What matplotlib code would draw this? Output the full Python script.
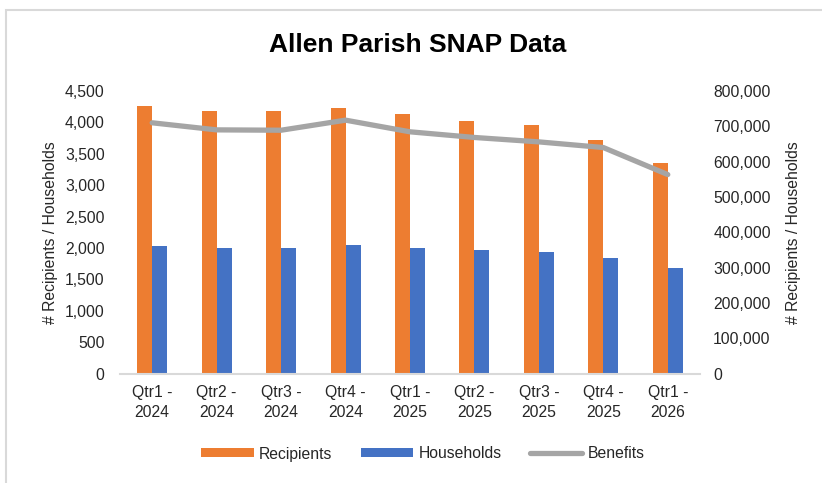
import matplotlib
matplotlib.use("Agg")
import matplotlib.pyplot as plt
import numpy as np
from matplotlib.ticker import FuncFormatter, MultipleLocator
from matplotlib.patches import Rectangle

plt.rcParams['font.family'] = ['Liberation Sans', 'DejaVu Sans']

categories = ["Qtr1 -\n2024", "Qtr2 -\n2024", "Qtr3 -\n2024", "Qtr4 -\n2024",
              "Qtr1 -\n2025", "Qtr2 -\n2025", "Qtr3 -\n2025", "Qtr4 -\n2025",
              "Qtr1 -\n2026"]
recipients = [4263, 4186, 4175, 4224, 4133, 4026, 3962, 3713, 3346]
households = [2031, 2005, 2005, 2043, 2003, 1968, 1931, 1835, 1676]
benefits = [710000, 690000, 689000, 717500, 684500, 668500, 656000, 640000, 563500]

orange = "#ED7D31"
blue = "#4472C4"
gray = "#A5A5A5"
txt = "#262626"
fs = 11.3

fig = plt.figure(figsize=(8.22, 4.83), dpi=100)
# outer border
fig.patches.append(Rectangle((6/822, -0.01), 1.2, 1 - 10/483 + 0.01, transform=fig.transFigure,
                             fill=False, edgecolor="#D9D9D9", linewidth=1.5, zorder=0))

ax = fig.add_axes([120/822, (483-373.7)/483, 580/822, 282.7/483])
x = np.arange(len(categories))
w = 0.233
ax.bar(x - w/2, recipients, width=w, color=orange, label="Recipients", zorder=2)
ax.bar(x + w/2, households, width=w, color=blue, label="Households", zorder=2)
ax.set_xlim(-0.5, len(categories) - 0.5)
ax.set_ylim(0, 4500)
ax.yaxis.set_major_locator(MultipleLocator(500))
ax.yaxis.set_major_formatter(FuncFormatter(lambda v, p: f"{int(v):,}"))
ax.set_xticks(x)
ax.set_xticklabels(categories, fontsize=fs, color=txt, linespacing=1.4)
ax.tick_params(axis='both', length=0, labelsize=fs, labelcolor=txt)
ax.tick_params(axis='x', pad=8)
ax.tick_params(axis='y', pad=11)
for s in ["top", "right", "left"]:
    ax.spines[s].set_visible(False)
ax.spines["bottom"].set_color("#D9D9D9")
ax.spines["bottom"].set_linewidth(1.5)
ax.set_ylabel("# Recipients / Households", fontsize=fs, color=txt, labelpad=5)

ax2 = ax.twinx()
ax2.plot(x, benefits, color=gray, linewidth=3.8, label="Benefits", zorder=3, solid_capstyle='round')
ax2.set_ylim(0, 800000)
ax2.yaxis.set_major_locator(MultipleLocator(100000))
ax2.yaxis.set_major_formatter(FuncFormatter(lambda v, p: f"{int(v):,}"))
ax2.tick_params(axis='y', length=0, labelsize=fs, labelcolor=txt, pad=9.5)
for s in ["top", "right", "left", "bottom"]:
    ax2.spines[s].set_visible(False)
ax2.set_ylabel("# Recipients / Households", fontsize=fs, color=txt, labelpad=11)

fig.text(418/822, 1 - 45/483, "Allen Parish SNAP Data", ha="center", va="center",
         fontsize=19, fontweight="bold", color="#000000")

h1, l1 = ax.get_legend_handles_labels()
h2, l2 = ax2.get_legend_handles_labels()
fig.legend(h1 + h2, l1 + l2, loc="center", bbox_to_anchor=(423/822, 1 - 454/483),
           ncol=3, frameon=False, fontsize=fs, handlelength=3.35, handleheight=0.5,
           columnspacing=1.8, handletextpad=0.33, labelcolor=txt)

fig.savefig("out.png", dpi=100)
